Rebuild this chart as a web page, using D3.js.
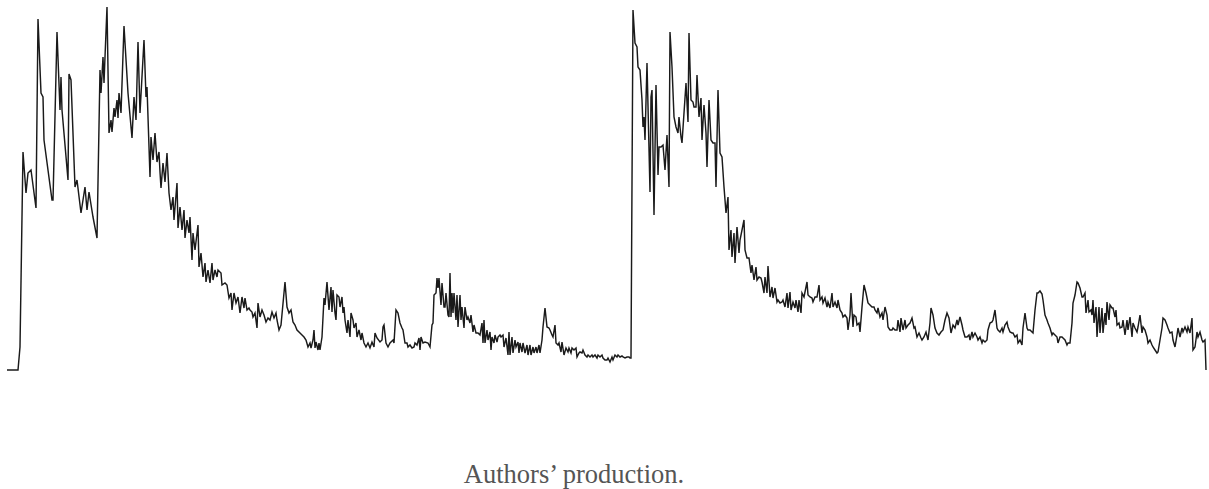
<!DOCTYPE html>
<html>
<head>
<meta charset="utf-8">
<script src="https://cdn.jsdelivr.net/npm/d3@7"></script>
<style>
  html, body { margin: 0; padding: 0; background: #fff; }
  svg { display: block; }
</style>
</head>
<body>
<svg id="chart" width="1209" height="489"></svg>
<script>
// Daily index series, [day, level], split into the phases of the two waves.
const firstWaveOnset = [
  [0,0],[11,0],[13,23],[16,218],[19,177],[21,197],[24,200],[29,162],[31,351],[34,277],
  [36,273],[37,230],[45,170],[46,170],[50,338],[53,260],[54,293],[55,260],[61,190],[62,296],
  [64,290],[68,183],[70,190],[74,157],[78,183],[80,160],[82,178],[86,153],[90,132],[93,300],
  [94,277],[96,313],[97,287],[98,313],[100,363],[102,237],[104,250],[105,238],[107,262],[108,253],
  [110,270],[111,252],[112,277],[114,257],[117,344],[121,277],[125,232],[127,273],[129,250],[131,328],
  [133,257],[137,330],[139,273],[140,283],[143,193],[144,233],[146,210],[148,237]
];
const firstWaveDecline = [
  [150,208],[152,218],[153,198],[154,182],[156,207],[158,188],[160,217],[162,177],[164,160],[166,173],
  [167,150],[170,187],[171,142],[173,163],[175,140],[177,160],[178,132],[180,150],[182,137],[183,153],
  [185,110],[186,137],[188,120],[191,145],[192,103],[194,117],[196,93],[198,107],[199,88],[201,100],
  [203,87],[205,107],[206,90],[208,100],[210,93],[211,100],[214,97],[215,85],[218,87],[220,85],
  [222,72],[224,77],[225,60],[227,77],[229,67],[231,73],[233,57],[235,73],[237,62],[238,72],
  [240,60],[242,62],[243,60],[245,58],[246,53],[248,57],[250,42],[251,67],[253,53],[255,60],
  [257,55],[259,48],[261,52],[263,50],[265,58],[267,52],[269,57],[270,50],[272,40],[274,45],
  [278,88],[280,63],[282,57],[284,60],[286,48],[288,45],[290,40],[293,37],[295,35],[297,33],
  [299,30],[301,23],[303,27],[304,22],[306,30],[307,40],[308,22],[309,28],[311,20],[312,27],
  [313,20],[315,33]
];
const interimFlareUps = [
  [317,72],[318,65],[320,88],[322,60],[324,83],[325,58],[326,80],[328,57],[329,50],[330,75],
  [332,73],[333,63],[335,73],[336,57],[337,63],[338,50],[340,37],[341,50],[343,33],[344,57],
  [346,50],[347,42],[349,47],[350,33],[352,40],[354,30],[355,37],[357,27],[359,23],[361,27],
  [363,22],[365,28],[367,23],[368,37],[370,32],[373,28],[375,30],[376,43],[377,45],[379,27],
  [381,23],[383,27],[386,30],[387,27],[389,60],[391,57],[393,47],[395,42],[396,40],[398,27],
  [400,27],[401,23],[403,25],[405,22],[407,23],[408,27],[410,25],[412,32],[413,20],[414,33],
  [416,27],[418,28],[421,27],[423,23],[425,45],[426,47],[427,75],[429,77],[430,92],[431,82],
  [432,92],[434,65],[435,87],[437,63],[438,63],[439,77],[441,55],[442,53],[443,97],[444,53],
  [445,77],[446,57],[447,77],[449,50],[450,75],[451,43],[453,75],[454,50],[455,63],[457,42],
  [458,63],[460,50],[461,53],[463,47],[464,55],[466,38],[467,45],[469,37],[471,37],[473,35],
  [475,47],[476,27],[477,50],[478,27],[480,40],[481,30],[483,38],[484,20],[485,33],[487,27],
  [488,35],[490,28],[491,33],[493,35],[494,33],[496,35],[497,23],[499,32],[501,15],[502,38],
  [503,15],[505,33],[506,17],[508,30],[509,23],[511,28],[512,17],[513,27],[515,18],[516,27],
  [518,17],[520,25],[521,15],[523,25],[524,15],[526,23],[527,17],[529,23],[530,17],[532,25],
  [533,17],[535,30],[536,43],[538,62],[540,43],[542,42],[543,40],[545,35],[546,33],[548,45],
  [549,27],[551,25],[552,27],[554,18],[555,28],[557,15],[559,22],[561,18],[562,22],[564,17],
  [565,22],[567,20],[569,22],[570,13],[572,17],[573,18],[575,17],[576,20],[578,15],[580,13],
  [581,15],[583,13],[585,15],[586,13],[588,15],[590,12],[591,15],[593,13],[595,15],[596,12],
  [598,10],[600,10],[601,12],[603,8],[605,13],[606,10],[608,15],[610,13],[611,15],[613,13],
  [615,14],[616,13],[618,12],[620,13],[622,13],[623,12],[624,12]
];
const secondWave = [
  [626,360],[628,327],[630,323],[631,303],[633,300],[635,270],[636,243],[637,253],[638,230],[640,307],
  [643,178],[644,273],[645,280],[647,155],[649,285],[651,195],[652,223],[654,223],[656,225],[658,200],
  [660,235],[662,183],[663,338],[665,303],[667,253],[669,243],[671,237],[672,253],[674,233],[675,227],
  [677,257],[679,287],[681,248],[682,337],[684,270],[686,268],[687,263],[689,263],[690,295],[692,253],
  [694,272],[695,230],[697,265],[699,237],[700,203],[702,270],[704,230],[706,227],[708,227],[709,183],
  [711,280],[713,217],[715,213],[717,183],[719,157],[721,173],[722,120],[724,140],[725,113],[727,137],
  [728,107],[730,143],[732,117],[733,130],[735,140],[737,150],[738,120],[740,112],[742,112],[744,97],
  [745,105],[747,90],[749,103],[750,90],[752,93],[754,92],[755,88],[757,77],[758,93],[760,77],
  [761,104],[763,73],[765,83],[766,72],[768,82],[770,68],[771,70],[773,67],[775,68],[776,70],
  [778,63],[780,77],[781,62],[783,78],[784,60],[786,68],[788,62],[789,70],[791,58],[792,70],
  [794,57],[795,77],[797,73],[798,78],[800,88],[801,75],[803,73],[805,72],[806,68],[808,73],
  [810,73],[812,85],[813,70],[815,73],[816,67],[818,72],[820,63],[821,68],[823,62],[825,77],
  [826,63],[828,68],[830,62],[831,70],[833,60],[835,57],[836,53],[838,55],[840,52],[841,40],
  [843,55],[844,77],[846,43],[847,55],[849,53],[850,45],[852,47],[853,38],[855,63],[857,85],
  [859,77],[861,67],[863,65],[865,63],[867,63],[868,60],[870,57],[871,62],[873,53],[875,57],
  [876,50],[878,63],[880,55],[881,43],[883,40],[885,40],[886,42]
];
const lateResurgences = [
  [888,40],[890,40],[891,50],[893,38],[894,52],[896,40],[898,50],[899,42],[901,45],[903,47],
  [905,52],[907,42],[908,43],[910,33],[912,37],[914,32],[915,30],[917,33],[919,38],[921,30],
  [923,47],[924,62],[926,55],[928,42],[930,37],[932,35],[934,38],[936,40],[938,50],[940,57],
  [942,52],[944,37],[946,45],[948,42],[950,50],[951,45],[953,53],[955,45],[956,40],[958,33],
  [960,33],[962,35],[963,30],[965,38],[966,33],[968,37],[970,33],[971,30],[973,33],[975,27],
  [976,30],[978,28],[980,30],[981,40],[983,47],[985,48],[986,50],[988,60],[990,42],[991,40],
  [993,38],[995,42],[996,38],[998,45],[1000,48],[1001,43],[1003,38],[1005,37],[1006,37],[1008,33],
  [1010,35],[1011,27],[1013,30],[1015,25],[1016,42],[1018,57],[1020,42],[1021,40],[1023,40],[1025,38],
  [1026,37],[1028,60],[1030,77],[1031,77],[1033,79],[1035,76],[1036,70],[1038,55],[1040,50],[1041,47],
  [1043,42],[1045,35],[1046,37],[1048,35],[1050,33],[1051,27],[1053,33],[1055,33],[1056,32],[1058,30],
  [1060,25],[1061,27],[1063,27],[1065,47],[1066,67],[1068,75],[1070,88],[1071,87],[1073,82],[1075,73],
  [1076,73],[1078,77],[1079,57],[1081,70],[1082,58],[1084,60],[1085,55],[1086,70],[1087,47],[1089,63],
  [1090,33],[1092,63],[1093,37],[1095,62],[1096,37],[1098,57],[1099,45],[1100,68],[1102,50],[1103,65],
  [1105,62],[1106,62],[1108,53],[1109,60],[1110,45],[1112,47],[1113,42],[1115,43],[1116,50],[1118,35],
  [1120,50],[1121,40],[1123,53],[1125,33],[1126,47],[1128,42],[1130,38],[1131,43],[1133,55],[1135,37],
  [1136,43],[1138,40],[1140,33],[1141,27],[1143,30],[1145,25],[1146,23],[1148,20],[1150,17],[1151,18],
  [1153,30],[1155,42],[1156,52],[1158,50],[1160,45],[1161,42],[1163,37],[1165,38],[1166,30],[1168,23],
  [1170,35],[1171,42],[1173,33],[1175,42],[1176,38],[1178,43],[1180,38],[1181,43],[1183,37],[1185,52],
  [1186,20],[1188,23],[1190,38],[1191,33],[1193,38],[1195,30],[1196,28],[1198,30],[1199,0]
];

const sourceNote = "Authors\u2019 production.";

const series = [].concat(firstWaveOnset, firstWaveDecline, interimFlareUps, secondWave, lateResurgences)
  .map(([day, level]) => ({ day, level }));

const svg = d3.select("#chart");

const x = d3.scaleLinear()
  .domain([0, 1199])
  .range([7, 1206]);

const y = d3.scaleLinear()
  .domain([0, 363])
  .range([370, 7]);

const line = d3.line()
  .x(d => x(d.day))
  .y(d => y(d.level));

svg.append("path")
  .datum(series)
  .attr("fill", "none")
  .attr("stroke", "#1a1a1a")
  .attr("stroke-width", 1.45)
  .attr("stroke-linejoin", "miter")
  .attr("d", line);

svg.append("text")
  .attr("x", 574)
  .attr("y", 483)
  .attr("text-anchor", "middle")
  .attr("font-family", "'Liberation Serif', 'Times New Roman', serif")
  .attr("font-size", 26.5)
  .attr("fill", "#555")
  .text(sourceNote);
</script>
</body>
</html>
